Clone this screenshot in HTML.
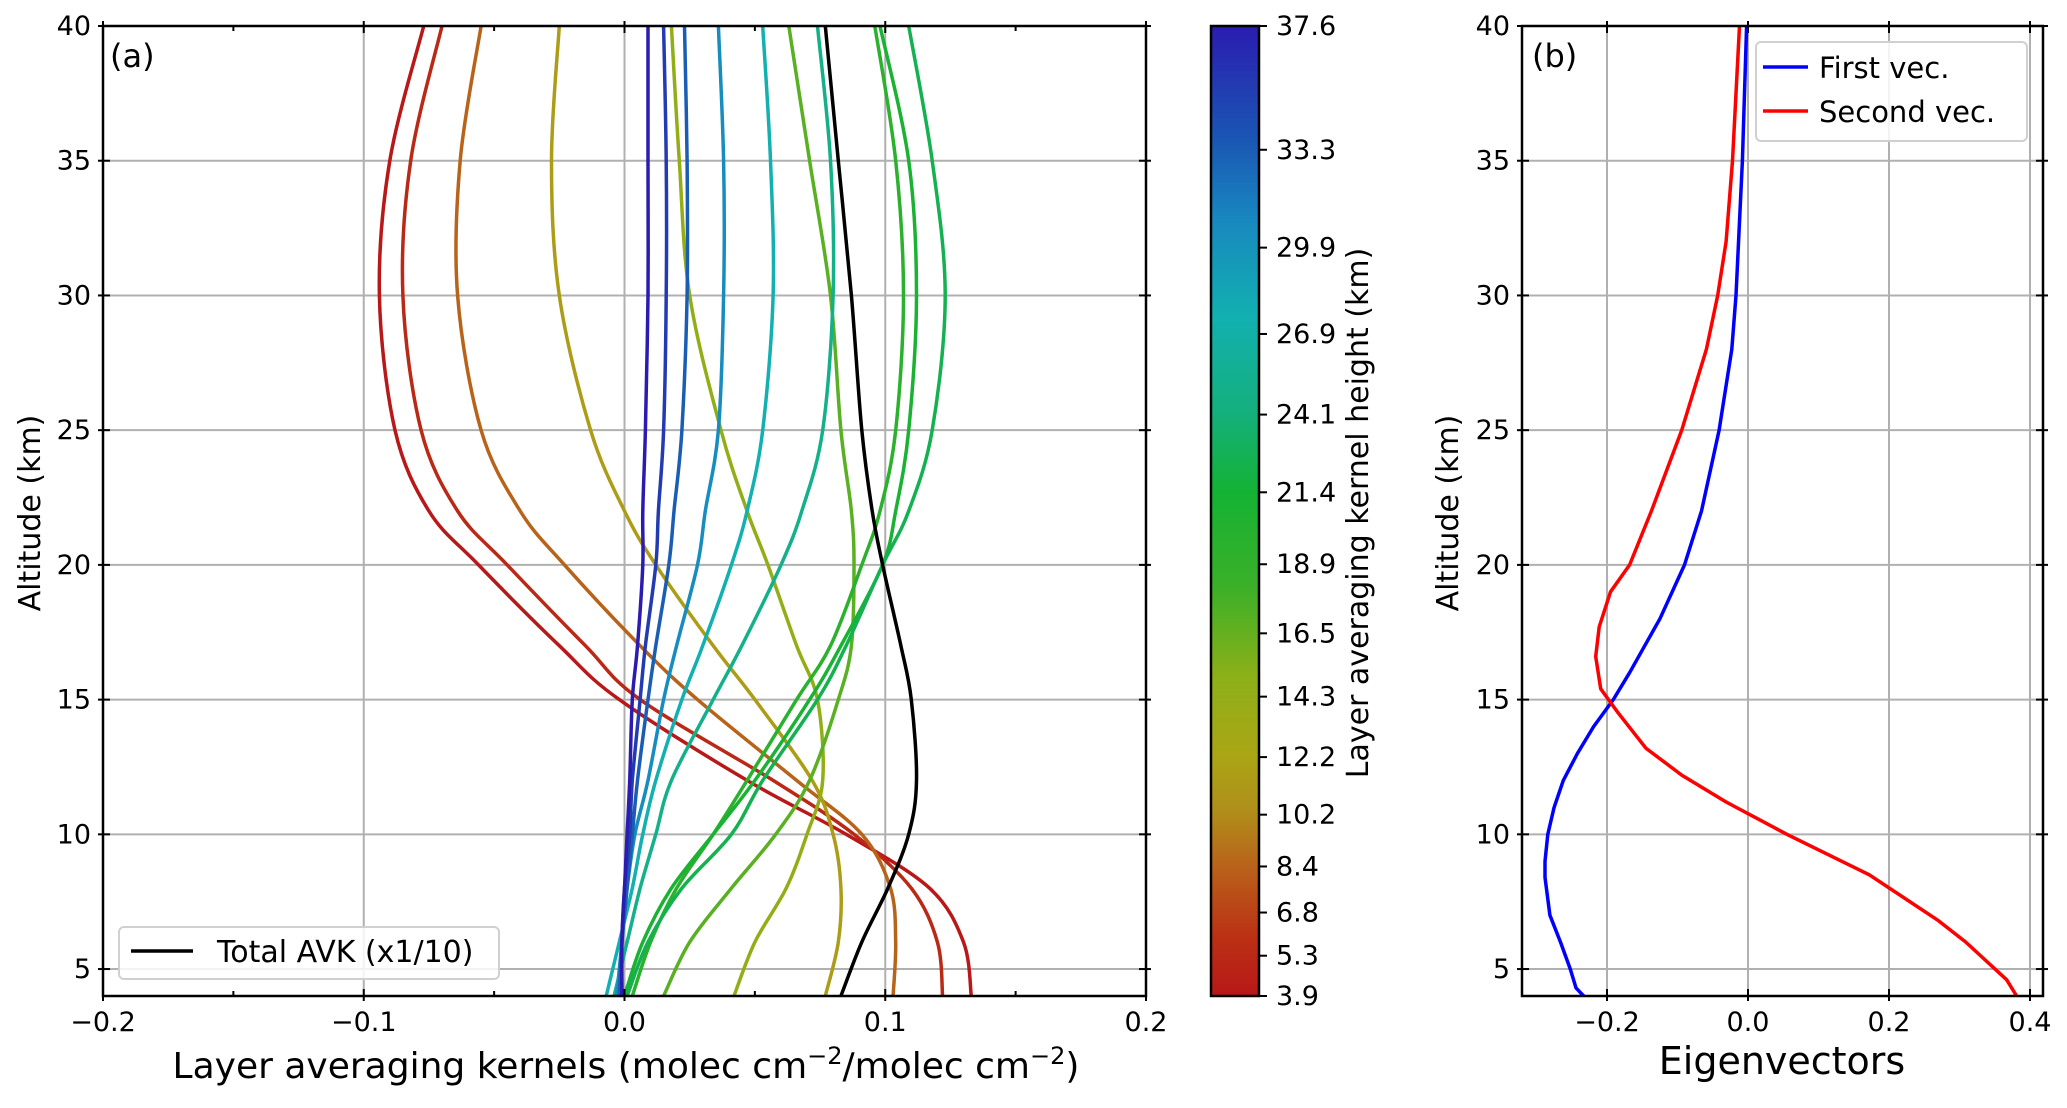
<!DOCTYPE html>
<html><head><meta charset="utf-8">
<style>
html,body{margin:0;padding:0;background:#fff;}
svg text{font-family:"DejaVu Sans","Liberation Sans",sans-serif;fill:#000;}
</style></head>
<body>
<svg id="fig" width="2067" height="1103" viewBox="0 0 2067 1103" xmlns="http://www.w3.org/2000/svg">
<defs>
<linearGradient id="cmap" x1="0" y1="1" x2="0" y2="0">
<stop offset="0" stop-color="#b81818"/>
<stop offset="0.06" stop-color="#bb3014"/>
<stop offset="0.13" stop-color="#b9601a"/>
<stop offset="0.19" stop-color="#b08e1a"/>
<stop offset="0.25" stop-color="#aaa615"/>
<stop offset="0.33" stop-color="#8cb018"/>
<stop offset="0.42" stop-color="#3cb028"/>
<stop offset="0.52" stop-color="#14b234"/>
<stop offset="0.60" stop-color="#14b07c"/>
<stop offset="0.70" stop-color="#12b0b0"/>
<stop offset="0.80" stop-color="#1888c0"/>
<stop offset="0.88" stop-color="#1a58b4"/>
<stop offset="1" stop-color="#2a1cb0"/>
</linearGradient>
</defs>
<g id="layerA"></g>
<g id="layerB"></g>
</svg>
<script>
// ---- Panel (a) data ----
const altA = [40,35,30,25,22,20,17,15,12,10,8,6,4];
const kernelHeights = [3.9,5.3,8.4,11.5,14.5,17.0,19.5,21.0,22.5,25.0,27.5,30.5,33.3,35.5,37.6];
const k1 = [-0.077,-0.090,-0.094,-0.088,-0.075,-0.056,-0.025,-0.002,0.047,0.085,0.117,0.130,0.133];
const k2 = [-0.070,-0.082,-0.085,-0.078,-0.064,-0.045,-0.015,0.006,0.057,0.088,0.110,0.120,0.122];
const k3 = [-0.055,-0.063,-0.064,-0.055,-0.040,-0.023,0.006,0.028,0.066,0.091,0.102,0.104,0.103];
const k4 = [-0.025,-0.028,-0.025,-0.013,0.000,0.012,0.034,0.050,0.072,0.080,0.083,0.082,0.077];
const k5 = [0.018,0.021,0.025,0.037,0.047,0.055,0.066,0.074,0.076,0.070,0.062,0.050,0.042];
const k6 = [0.063,0.071,0.079,0.083,0.087,0.088,0.087,0.082,0.071,0.058,0.041,0.025,0.015];
const k7 = [0.096,0.104,0.107,0.104,0.098,0.091,0.079,0.066,0.047,0.034,0.020,0.010,0.003];
const k8 = [0.098,0.109,0.112,0.109,0.104,0.099,0.083,0.071,0.050,0.034,0.018,0.007,0.000];
const k9 = [0.109,0.118,0.123,0.118,0.109,0.099,0.085,0.074,0.053,0.041,0.022,0.009,0.001];
const k10 = [0.074,0.079,0.080,0.076,0.068,0.060,0.045,0.034,0.018,0.012,0.006,0.001,-0.004];
const k11 = [0.053,0.056,0.057,0.053,0.047,0.041,0.030,0.022,0.012,0.007,0.003,-0.002,-0.007];
const k12 = [0.036,0.038,0.038,0.036,0.031,0.028,0.020,0.015,0.009,0.004,0.001,-0.001,-0.003];
const k13 = [0.023,0.024,0.024,0.022,0.019,0.017,0.012,0.009,0.005,0.003,0.001,-0.001,-0.002];
const k14 = [0.015,0.016,0.016,0.015,0.013,0.012,0.008,0.006,0.003,0.002,0.000,-0.001,-0.001];
const k15 = [0.009,0.009,0.009,0.008,0.007,0.007,0.005,0.003,0.002,0.001,0.000,-0.001,-0.001];
const totalAvk = [0.077,0.082,0.087,0.091,0.095,0.099,0.106,0.110,0.112,0.109,0.101,0.091,0.083];
const xTicksA = [-0.2,-0.1,0.0,0.1,0.2];
const xTickLabelsA = ["\u22120.2","\u22120.1","0.0","0.1","0.2"];
const yTicks = [5,10,15,20,25,30,35,40];
const cbTicks = [3.9,5.3,6.8,8.4,10.2,12.2,14.3,16.5,18.9,21.4,24.1,26.9,29.9,33.3,37.6];
// ---- Panel (b) data ----
const altFirst = [40,35,30,28,25,22,20,18,16,15,14,13,12,11,10,9,8.4,7,6,5,4.3,4];
const firstVec = [-0.002,-0.008,-0.017,-0.023,-0.041,-0.066,-0.090,-0.125,-0.168,-0.191,-0.219,-0.242,-0.262,-0.275,-0.284,-0.288,-0.288,-0.281,-0.266,-0.252,-0.244,-0.233];
const altSecond = [40,35,32,30,28,25,22,20,19,17.7,16.6,15.4,14.5,13.2,12.2,11.2,10,8.5,6.8,6,4.6,4];
const secondVec = [-0.012,-0.022,-0.031,-0.043,-0.059,-0.094,-0.137,-0.168,-0.195,-0.211,-0.216,-0.209,-0.184,-0.145,-0.094,-0.031,0.055,0.172,0.270,0.309,0.367,0.381];
const xTicksB = [-0.2,0.0,0.2,0.4];
const xTickLabelsB = ["\u22120.2","0.0","0.2","0.4"];

const NS="http://www.w3.org/2000/svg";
function mk(parent,tag,attrs,text){const e=document.createElementNS(NS,tag);for(const k in attrs)e.setAttribute(k,attrs[k]);if(text!==undefined)e.textContent=text;parent.appendChild(e);return e;}

const TOP=26, BOT=996;
const yS = a => BOT - (a-4)/(40-4)*(BOT-TOP);
const AL=103, AR=1146;
const xA = v => AL + (v+0.2)/0.4*(AR-AL);
const BL=1522, BR=2043;
const xB = v => 1748 + v*705;

const cstops=[[0,[184,24,24]],[0.06,[187,48,20]],[0.13,[185,96,26]],[0.19,[176,142,26]],[0.25,[170,166,21]],[0.33,[140,176,24]],[0.42,[60,176,40]],[0.52,[20,178,52]],[0.60,[20,176,124]],[0.70,[18,176,176]],[0.80,[24,136,192]],[0.88,[26,88,180]],[1,[42,28,176]]];
function cmap(t){for(let i=1;i<cstops.length;i++){if(t<=cstops[i][0]){const a=cstops[i-1],b=cstops[i];const f=(t-a[0])/(b[0]-a[0]);const c=a[1].map((v,j)=>Math.round(v+(b[1][j]-v)*f));return `rgb(${c[0]},${c[1]},${c[2]})`;}}return 'rgb(42,28,176)';}

function smoothPath(pts){let d=`M${pts[0][0].toFixed(1)},${pts[0][1].toFixed(1)}`;for(let i=0;i<pts.length-1;i++){const p0=pts[Math.max(0,i-1)],p1=pts[i],p2=pts[i+1],p3=pts[Math.min(pts.length-1,i+2)];const c1=[p1[0]+(p2[0]-p0[0])/6,p1[1]+(p2[1]-p0[1])/6];const c2=[p2[0]-(p3[0]-p1[0])/6,p2[1]-(p3[1]-p1[1])/6];d+=` C${c1[0].toFixed(1)},${c1[1].toFixed(1)} ${c2[0].toFixed(1)},${c2[1].toFixed(1)} ${p2[0].toFixed(1)},${p2[1].toFixed(1)}`;}return d;}
function linePath(pts){return 'M'+pts.map(p=>p[0].toFixed(1)+','+p[1].toFixed(1)).join(' L');}

// ===== Panel A =====
const gA=document.getElementById('layerA');
yTicks.forEach(t=>{
  const g=mk(gA,'line',{x1:AL,x2:AR,y1:yS(t),y2:yS(t),stroke:'#b0b0b0','stroke-width':2});
  
  
});
xTicksA.forEach(t=>{
  const g=mk(gA,'line',{x1:xA(t),x2:xA(t),y1:TOP,y2:BOT,stroke:'#b0b0b0','stroke-width':2});
  
  
});
const kernels=[k1,k2,k3,k4,k5,k6,k7,k8,k9,k10,k11,k12,k13,k14,k15];
const clipA=mk(gA,'clipPath',{id:'clipA'});mk(clipA,'rect',{x:AL,y:TOP,width:AR-AL,height:BOT-TOP});
const curvesA=mk(gA,'g',{'clip-path':'url(#clipA)'});


kernels.forEach((k,i)=>{
  const pts=k.map((v,j)=>[xA(v),yS(altA[j])]);
  const p=mk(curvesA,'path',{d:smoothPath(pts),fill:'none',stroke:cmap((kernelHeights[i]-3.9)/(37.6-3.9)),'stroke-width':3.5});
  
  
});
const tp=mk(curvesA,'path',{d:smoothPath(totalAvk.map((v,j)=>[xA(v),yS(altA[j])])),fill:'none',stroke:'#000','stroke-width':3.5});


const fA=mk(gA,'rect',{x:AL,y:TOP,width:AR-AL,height:BOT-TOP,fill:'none',stroke:'#000','stroke-width':2.5});


yTicks.forEach(t=>{
  mk(gA,'line',{x1:AL-5,x2:AL+7,y1:yS(t),y2:yS(t),stroke:'#000','stroke-width':2});
  mk(gA,'line',{x1:AR-7,x2:AR+5,y1:yS(t),y2:yS(t),stroke:'#000','stroke-width':2});
  const l=mk(gA,'text',{x:AL-12,y:yS(t)+9,'text-anchor':'end','font-size':27},String(t));
  
  
});
for(let v=-0.2;v<=0.2001;v+=0.05){
  const major=Math.abs(Math.round(v*10)-v*10)<1e-6;
  const len=major?7:5;
  mk(gA,'line',{x1:xA(v),x2:xA(v),y1:BOT+(major?5:0),y2:BOT-len,stroke:'#000','stroke-width':2});
  mk(gA,'line',{x1:xA(v),x2:xA(v),y1:TOP-(major?5:0),y2:TOP+len,stroke:'#000','stroke-width':2});
}
xTicksA.forEach((t,i)=>{
  const l=mk(gA,'text',{x:xA(t),y:1031,'text-anchor':'middle','font-size':27},xTickLabelsA[i]);
  
  
});
let e;
e=mk(gA,'text',{x:110,y:67,'font-size':32},'(a)');


e=mk(gA,'text',{x:0,y:0,'font-size':30,'text-anchor':'middle',transform:'translate(40,513) rotate(-90)'},'Altitude (km)');


e=mk(gA,'text',{x:626,y:1078,'font-size':36,'text-anchor':'middle'});


e.innerHTML='Layer averaging kernels (molec cm<tspan dy="-14" font-size="24">\u22122</tspan><tspan dy="14">/molec cm</tspan><tspan dy="-14" font-size="24">\u22122</tspan><tspan dy="14">)</tspan>';
const legA=mk(gA,'g',{});


mk(legA,'rect',{x:119,y:927,width:380,height:52,rx:5,fill:'#fff','fill-opacity':0.85,stroke:'#d0d0d0','stroke-width':2});
mk(legA,'line',{x1:131,x2:193,y1:951,y2:951,stroke:'#000','stroke-width':3.5});
e=mk(legA,'text',{x:217,y:962,'font-size':30},'Total AVK (x1/10)');



const CL=1211, CR=1259;
const cbY = v => BOT - (v-3.9)/(37.6-3.9)*(BOT-TOP);
e=mk(gA,'rect',{x:CL,y:TOP,width:CR-CL,height:BOT-TOP,fill:'url(#cmap)',stroke:'#000','stroke-width':2.5});


cbTicks.forEach(t=>{
  mk(gA,'line',{x1:CR,x2:CR+8,y1:cbY(t),y2:cbY(t),stroke:'#000','stroke-width':2});
  const l=mk(gA,'text',{x:CR+17,y:cbY(t)+9,'font-size':27},t.toFixed(1));
  
  
});
e=mk(gA,'text',{x:0,y:0,'font-size':30,'text-anchor':'middle',transform:'translate(1368,513) rotate(-90)'},'Layer averaging kernel height (km)');



// ===== Panel B =====
const gB=document.getElementById('layerB');
yTicks.forEach(t=>{
  const g=mk(gB,'line',{x1:BL,x2:BR,y1:yS(t),y2:yS(t),stroke:'#b0b0b0','stroke-width':2});
  
  
});
xTicksB.forEach(t=>{
  const g=mk(gB,'line',{x1:xB(t),x2:xB(t),y1:TOP,y2:BOT,stroke:'#b0b0b0','stroke-width':2});
  
  
});
e=mk(gB,'path',{d:linePath(firstVec.map((v,j)=>[xB(v),yS(altFirst[j])])),fill:'none',stroke:'#0000ff','stroke-width':3.5,'stroke-linejoin':'round'});


e=mk(gB,'path',{d:linePath(secondVec.map((v,j)=>[xB(v),yS(altSecond[j])])),fill:'none',stroke:'#ff0000','stroke-width':3.5,'stroke-linejoin':'round'});


e=mk(gB,'rect',{x:BL,y:TOP,width:BR-BL,height:BOT-TOP,fill:'none',stroke:'#000','stroke-width':2.5});


yTicks.forEach(t=>{
  mk(gB,'line',{x1:BL-5,x2:BL+7,y1:yS(t),y2:yS(t),stroke:'#000','stroke-width':2});
  mk(gB,'line',{x1:BR-7,x2:BR+5,y1:yS(t),y2:yS(t),stroke:'#000','stroke-width':2});
  const l=mk(gB,'text',{x:BL-12,y:yS(t)+9,'text-anchor':'end','font-size':27},String(t));
  
  
});
xTicksB.forEach((t,i)=>{
  mk(gB,'line',{x1:xB(t),x2:xB(t),y1:BOT+5,y2:BOT-7,stroke:'#000','stroke-width':2});
  mk(gB,'line',{x1:xB(t),x2:xB(t),y1:TOP-5,y2:TOP+7,stroke:'#000','stroke-width':2});
  const l=mk(gB,'text',{x:xB(t),y:1031,'text-anchor':'middle','font-size':27},xTickLabelsB[i]);
  
  
});
e=mk(gB,'text',{x:1532,y:67,'font-size':32},'(b)');


e=mk(gB,'text',{x:0,y:0,'font-size':30,'text-anchor':'middle',transform:'translate(1458,513) rotate(-90)'},'Altitude (km)');


e=mk(gB,'text',{x:1782,y:1074,'font-size':38,'text-anchor':'middle'},'Eigenvectors');


const legB=mk(gB,'g',{});


mk(legB,'rect',{x:1756,y:42,width:271,height:99,rx:5,fill:'#fff','fill-opacity':0.85,stroke:'#d0d0d0','stroke-width':2});
mk(legB,'line',{x1:1763,x2:1808,y1:67,y2:67,stroke:'#0000ff','stroke-width':3.5});
mk(legB,'line',{x1:1763,x2:1808,y1:111,y2:111,stroke:'#ff0000','stroke-width':3.5});
e=mk(legB,'text',{x:1819,y:78,'font-size':29},'First  vec.');


e=mk(legB,'text',{x:1819,y:122,'font-size':29},'Second  vec.');


</script>
</body></html>
